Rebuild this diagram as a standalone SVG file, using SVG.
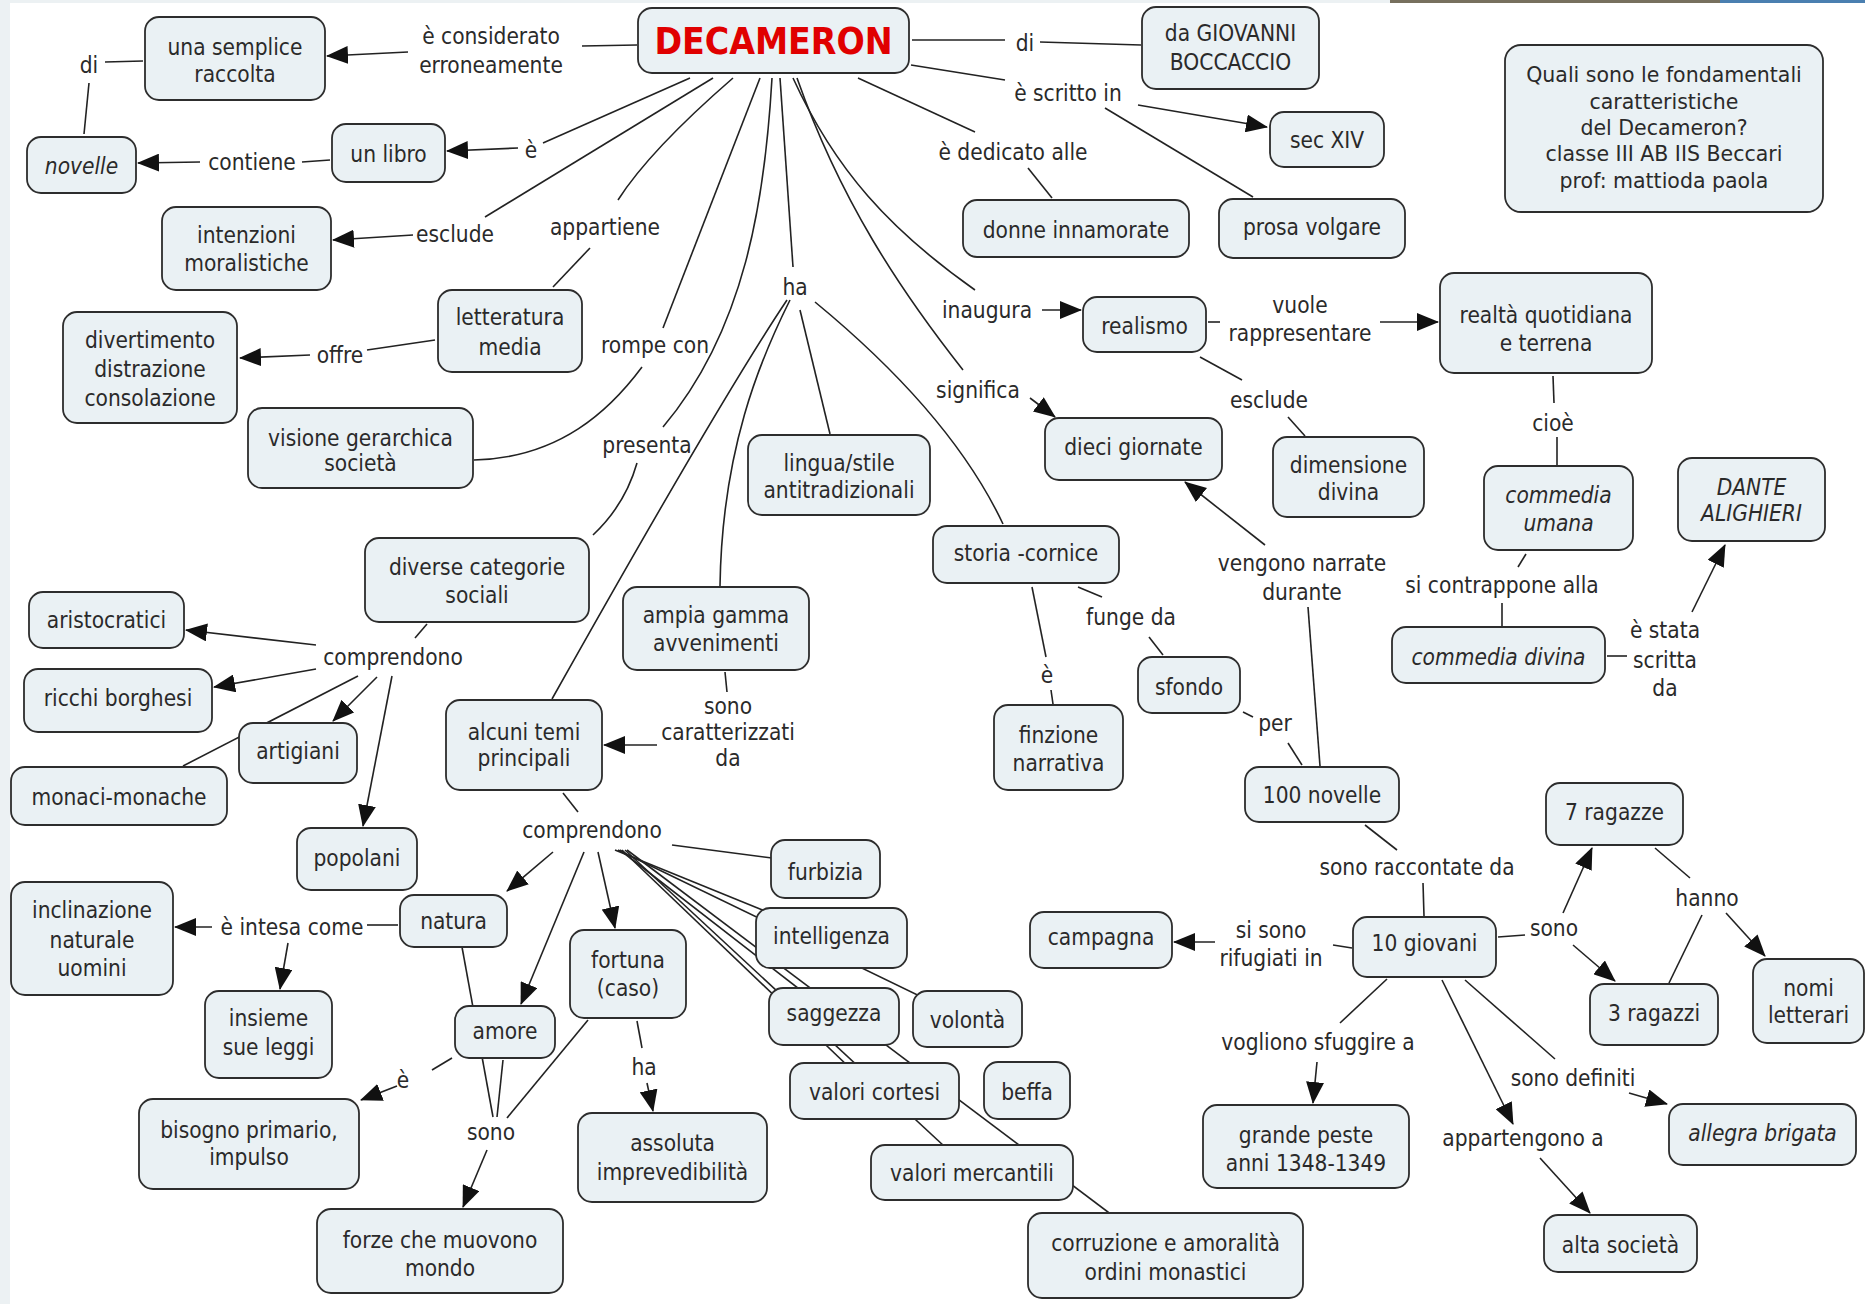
<svg xmlns="http://www.w3.org/2000/svg" width="1865" height="1304" viewBox="0 0 1865 1304">
<defs>
<marker id="ah" markerUnits="userSpaceOnUse" markerWidth="22" markerHeight="18" refX="21" refY="9" orient="auto" viewBox="0 0 22 18">
<path d="M0,0 L22,9 L0,18 z" fill="#111"/>
</marker>
<style>
.n rect{fill:#eaf1f4;stroke:#2d2d2d;stroke-width:1.8}
text{font-family:"DejaVu Sans Condensed","DejaVu Sans",sans-serif;font-size:22.5px;fill:#2a2a2a;text-anchor:middle}
.i{font-style:italic}
.q{font-family:"DejaVu Sans",sans-serif;font-size:20.5px}
.big{font-weight:bold;font-size:37px;fill:#e00000}
.c path,.c line{stroke:#222;stroke-width:1.6;fill:none}
.c .a{marker-end:url(#ah)}
</style>
</defs>
<rect width="1865" height="1304" fill="#ffffff"/>
<rect x="0" y="0" width="10" height="1304" fill="#ecf1f3"/>
<rect x="0" y="0" width="1865" height="3" fill="#ecf1f3"/>
<rect x="1390" y="0" width="330" height="3" fill="#77705e"/>
<rect x="1720" y="0" width="145" height="3" fill="#4a7fb0"/>

<g id="connectors" class="c">
<line x1="637" y1="45" x2="582" y2="46"/>
<line class="a" x1="408" y1="52" x2="327" y2="56"/>
<line x1="105" y1="62" x2="143" y2="61"/>
<line x1="89" y1="83" x2="84" y2="134"/>
<line x1="330" y1="160" x2="302" y2="162"/>
<line class="a" x1="200" y1="162" x2="138" y2="163"/>
<line x1="690" y1="78" x2="543" y2="143"/>
<line class="a" x1="518" y1="148" x2="447" y2="151"/>
<line x1="713" y1="78" x2="485" y2="217"/>
<line class="a" x1="413" y1="235" x2="333" y2="240"/>
<path d="M733 78 Q650 150 618 200"/>
<line x1="590" y1="248" x2="553" y2="287"/>
<line x1="435" y1="340" x2="367" y2="350"/>
<line class="a" x1="310" y1="355" x2="240" y2="358"/>
<line x1="760" y1="78" x2="663" y2="328"/>
<path d="M642 367 C610 410 560 458 474 460"/>
<path d="M772 78 C765 200 745 330 663 427"/>
<path d="M637 463 Q625 505 593 535"/>
<line x1="780" y1="78" x2="793" y2="267"/>
<path d="M787 300 Q720 400 552 699"/>
<path d="M790 300 C760 360 722 450 720 586"/>
<line x1="800" y1="310" x2="830" y2="434"/>
<path d="M815 302 Q951 414 1003 524"/>
<line x1="858" y1="78" x2="975" y2="132"/>
<line x1="1028" y1="168" x2="1052" y2="198"/>
<line x1="912" y1="40" x2="1005" y2="40"/>
<line x1="1040" y1="42" x2="1141" y2="45"/>
<line x1="911" y1="65" x2="1005" y2="80"/>
<line class="a" x1="1138" y1="105" x2="1267" y2="127"/>
<line x1="1105" y1="108" x2="1253" y2="197"/>
<path d="M793 78 C835 170 890 230 975 290"/>
<line class="a" x1="1042" y1="310" x2="1081" y2="310"/>
<path d="M797 78 C840 200 900 290 963 370"/>
<line class="a" x1="1030" y1="398" x2="1055" y2="417"/>
<line x1="1208" y1="322" x2="1220" y2="322"/>
<line class="a" x1="1380" y1="322" x2="1438" y2="322"/>
<line x1="1200" y1="357" x2="1242" y2="380"/>
<line x1="1288" y1="417" x2="1305" y2="436"/>
<line x1="1553" y1="376" x2="1554" y2="403"/>
<line x1="1557" y1="437" x2="1557" y2="465"/>
<line x1="1526" y1="554" x2="1518" y2="567"/>
<line x1="1502" y1="603" x2="1502" y2="626"/>
<line x1="1607" y1="656" x2="1627" y2="656"/>
<line class="a" x1="1692" y1="612" x2="1725" y2="545"/>
<line x1="1078" y1="587" x2="1102" y2="597"/>
<line x1="1149" y1="637" x2="1163" y2="655"/>
<line x1="1032" y1="587" x2="1046" y2="657"/>
<line x1="1051" y1="690" x2="1053" y2="704"/>
<line x1="1243" y1="712" x2="1253" y2="717"/>
<line x1="1288" y1="743" x2="1302" y2="765"/>
<line x1="1320" y1="766" x2="1308" y2="607"/>
<line class="a" x1="1265" y1="545" x2="1185" y2="482"/>
<line x1="1365" y1="825" x2="1397" y2="850"/>
<line x1="1423" y1="883" x2="1424" y2="916"/>
<line x1="1498" y1="937" x2="1525" y2="935"/>
<line class="a" x1="1563" y1="913" x2="1592" y2="848"/>
<line class="a" x1="1573" y1="945" x2="1615" y2="981"/>
<line x1="1655" y1="848" x2="1690" y2="878"/>
<line x1="1669" y1="983" x2="1702" y2="915"/>
<line class="a" x1="1726" y1="913" x2="1765" y2="956"/>
<line x1="1465" y1="980" x2="1555" y2="1059"/>
<line class="a" x1="1629" y1="1093" x2="1667" y2="1104"/>
<line class="a" x1="1442" y1="980" x2="1513" y2="1124"/>
<line class="a" x1="1540" y1="1158" x2="1590" y2="1213"/>
<line x1="1387" y1="979" x2="1340" y2="1023"/>
<line class="a" x1="1317" y1="1062" x2="1313" y2="1103"/>
<line x1="1352" y1="948" x2="1333" y2="945"/>
<line class="a" x1="1215" y1="942" x2="1174" y2="942"/>
<line x1="427" y1="624" x2="415" y2="638"/>
<line class="a" x1="316" y1="645" x2="186" y2="630"/>
<line class="a" x1="316" y1="669" x2="214" y2="687"/>
<line class="a" x1="377" y1="677" x2="333" y2="721"/>
<line x1="358" y1="676" x2="183" y2="766"/>
<line class="a" x1="392" y1="676" x2="363" y2="826"/>
<line x1="725" y1="672" x2="727" y2="692"/>
<line class="a" x1="657" y1="745" x2="604" y2="745"/>
<line x1="563" y1="793" x2="578" y2="812"/>
<line class="a" x1="553" y1="852" x2="507" y2="891"/>
<line class="a" x1="584" y1="852" x2="521" y2="1004"/>
<line class="a" x1="598" y1="852" x2="615" y2="928"/>
<line x1="672" y1="845" x2="772" y2="858"/>
<line x1="615" y1="850" x2="831" y2="938"/>
<line x1="618" y1="850" x2="967" y2="1019"/>
<line x1="620" y1="850" x2="834" y2="1016"/>
<line x1="622" y1="850" x2="874" y2="1091"/>
<line x1="625" y1="850" x2="972" y2="1172"/>
<line x1="627" y1="850" x2="1165" y2="1255"/>
<line x1="398" y1="925" x2="367" y2="925"/>
<line class="a" x1="212" y1="927" x2="175" y2="927"/>
<line class="a" x1="288" y1="943" x2="280" y2="989"/>
<line x1="452" y1="1058" x2="432" y2="1070"/>
<line class="a" x1="397" y1="1086" x2="361" y2="1100"/>
<line x1="462" y1="947" x2="493" y2="1117"/>
<line x1="503" y1="1060" x2="497" y2="1117"/>
<line x1="588" y1="1020" x2="507" y2="1118"/>
<line class="a" x1="487" y1="1150" x2="463" y2="1207"/>
<line x1="637" y1="1021" x2="642" y2="1048"/>
<line class="a" x1="647" y1="1083" x2="653" y2="1111"/>
</g>

<g id="decameron" class="n"><rect x="638" y="8" width="271" height="65" rx="14"/><text class="big" x="773.5" y="54">DECAMERON</text></g>
<g id="semplice" class="n"><rect x="145" y="17" width="180" height="83" rx="14"/><text x="235" y="55"><tspan x="235" y="55">una semplice</tspan><tspan x="235" y="82">raccolta</tspan></text></g>
<g id="novelle" class="n"><rect x="27" y="137" width="109" height="56" rx="14"/><text class="i" x="81.5" y="174">novelle</text></g>
<g id="libro" class="n"><rect x="332" y="124" width="113" height="58" rx="14"/><text x="388.5" y="162">un libro</text></g>
<g id="intenzioni" class="n"><rect x="162" y="207" width="169" height="83" rx="14"/><text x="246.5" y="243"><tspan x="246.5" y="243">intenzioni</tspan><tspan x="246.5" y="271">moralistiche</tspan></text></g>
<g id="divertimento" class="n"><rect x="63" y="312" width="174" height="111" rx="14"/><text x="150" y="348"><tspan x="150" y="348">divertimento</tspan><tspan x="150" y="377">distrazione</tspan><tspan x="150" y="406">consolazione</tspan></text></g>
<g id="letteratura" class="n"><rect x="438" y="290" width="144" height="82" rx="14"/><text x="510" y="325"><tspan x="510" y="325">letteratura</tspan><tspan x="510" y="355">media</tspan></text></g>
<g id="visione" class="n"><rect x="248" y="408" width="225" height="80" rx="14"/><text x="360.5" y="446"><tspan x="360.5" y="446">visione gerarchica</tspan><tspan x="360.5" y="471">società</tspan></text></g>
<g id="giovanni" class="n"><rect x="1142" y="7" width="177" height="82" rx="14"/><text x="1230.5" y="41"><tspan x="1230.5" y="41">da GIOVANNI</tspan><tspan x="1230.5" y="70">BOCCACCIO</tspan></text></g>
<g id="secxiv" class="n"><rect x="1270" y="112" width="114" height="55" rx="14"/><text x="1327" y="148">sec XIV</text></g>
<g id="donne" class="n"><rect x="963" y="200" width="226" height="57" rx="14"/><text x="1076" y="238">donne innamorate</text></g>
<g id="prosa" class="n"><rect x="1219" y="199" width="186" height="59" rx="14"/><text x="1312" y="235">prosa volgare</text></g>
<g id="quali" class="n"><rect x="1505" y="45" width="318" height="167" rx="16"/><text class="q" x="1664" y="82"><tspan x="1664" y="82">Quali sono le fondamentali</tspan><tspan x="1664" y="109">caratteristiche</tspan><tspan x="1664" y="135">del Decameron?</tspan><tspan x="1664" y="161">classe III AB IIS Beccari</tspan><tspan x="1664" y="188">prof: mattioda paola</tspan></text></g>
<g id="realismo" class="n"><rect x="1083" y="297" width="123" height="55" rx="14"/><text x="1144.5" y="334">realismo</text></g>
<g id="realta" class="n"><rect x="1440" y="273" width="212" height="100" rx="14"/><text x="1546" y="323"><tspan x="1546" y="323">realtà quotidiana</tspan><tspan x="1546" y="351">e terrena</tspan></text></g>
<g id="dieci" class="n"><rect x="1045" y="418" width="177" height="62" rx="14"/><text x="1133.5" y="455">dieci giornate</text></g>
<g id="dimensione" class="n"><rect x="1273" y="437" width="151" height="80" rx="14"/><text x="1348.5" y="473"><tspan x="1348.5" y="473">dimensione</tspan><tspan x="1348.5" y="500">divina</tspan></text></g>
<g id="lingua" class="n"><rect x="748" y="435" width="182" height="80" rx="14"/><text x="839" y="471"><tspan x="839" y="471">lingua/stile</tspan><tspan x="839" y="498">antitradizionali</tspan></text></g>
<g id="storia" class="n"><rect x="933" y="526" width="186" height="57" rx="14"/><text x="1026" y="561">storia -cornice</text></g>
<g id="umana" class="n"><rect x="1484" y="466" width="149" height="84" rx="14"/><text class="i" x="1558.5" y="503"><tspan x="1558.5" y="503">commedia</tspan><tspan x="1558.5" y="531">umana</tspan></text></g>
<g id="dante" class="n"><rect x="1678" y="458" width="147" height="83" rx="14"/><text class="i" x="1751.5" y="495"><tspan x="1751.5" y="495">DANTE</tspan><tspan x="1751.5" y="521">ALIGHIERI</tspan></text></g>
<g id="divina" class="n"><rect x="1392" y="627" width="213" height="56" rx="14"/><text class="i" x="1498.5" y="665">commedia divina</text></g>
<g id="diverse" class="n"><rect x="365" y="538" width="224" height="84" rx="14"/><text x="477" y="575"><tspan x="477" y="575">diverse categorie</tspan><tspan x="477" y="603">sociali</tspan></text></g>
<g id="ampia" class="n"><rect x="623" y="587" width="186" height="83" rx="14"/><text x="716" y="623"><tspan x="716" y="623">ampia gamma</tspan><tspan x="716" y="651">avvenimenti</tspan></text></g>
<g id="alcuni" class="n"><rect x="446" y="700" width="156" height="90" rx="14"/><text x="524" y="740"><tspan x="524" y="740">alcuni temi</tspan><tspan x="524" y="766">principali</tspan></text></g>
<g id="sfondo" class="n"><rect x="1138" y="657" width="102" height="56" rx="14"/><text x="1189" y="695">sfondo</text></g>
<g id="finzione" class="n"><rect x="994" y="705" width="129" height="85" rx="14"/><text x="1058.5" y="743"><tspan x="1058.5" y="743">finzione</tspan><tspan x="1058.5" y="771">narrativa</tspan></text></g>
<g id="cento" class="n"><rect x="1245" y="767" width="154" height="55" rx="14"/><text x="1322" y="803">100 novelle</text></g>
<g id="aristocratici" class="n"><rect x="29" y="592" width="155" height="56" rx="14"/><text x="106.5" y="628">aristocratici</text></g>
<g id="ricchi" class="n"><rect x="24" y="669" width="188" height="63" rx="14"/><text x="118" y="706">ricchi borghesi</text></g>
<g id="artigiani" class="n"><rect x="239" y="723" width="118" height="60" rx="14"/><text x="298" y="759">artigiani</text></g>
<g id="monaci" class="n"><rect x="11" y="767" width="216" height="58" rx="14"/><text x="119" y="805">monaci-monache</text></g>
<g id="popolani" class="n"><rect x="297" y="828" width="120" height="62" rx="14"/><text x="357" y="866">popolani</text></g>
<g id="inclinazione" class="n"><rect x="11" y="882" width="162" height="113" rx="14"/><text x="92" y="918"><tspan x="92" y="918">inclinazione</tspan><tspan x="92" y="948">naturale</tspan><tspan x="92" y="976">uomini</tspan></text></g>
<g id="natura" class="n"><rect x="400" y="895" width="107" height="52" rx="14"/><text x="453.5" y="929">natura</text></g>
<g id="insieme" class="n"><rect x="205" y="991" width="127" height="87" rx="14"/><text x="268.5" y="1026"><tspan x="268.5" y="1026">insieme</tspan><tspan x="268.5" y="1055">sue leggi</tspan></text></g>
<g id="amore" class="n"><rect x="455" y="1006" width="100" height="52" rx="14"/><text x="505" y="1039">amore</text></g>
<g id="bisogno" class="n"><rect x="139" y="1099" width="220" height="90" rx="14"/><text x="249" y="1138"><tspan x="249" y="1138">bisogno primario,</tspan><tspan x="249" y="1165">impulso</tspan></text></g>
<g id="forze" class="n"><rect x="317" y="1209" width="246" height="84" rx="14"/><text x="440" y="1248"><tspan x="440" y="1248">forze che muovono</tspan><tspan x="440" y="1276">mondo</tspan></text></g>
<g id="fortuna" class="n"><rect x="570" y="930" width="116" height="88" rx="14"/><text x="628" y="968"><tspan x="628" y="968">fortuna</tspan><tspan x="628" y="996">(caso)</tspan></text></g>
<g id="assoluta" class="n"><rect x="578" y="1113" width="189" height="89" rx="14"/><text x="672.5" y="1151"><tspan x="672.5" y="1151">assoluta</tspan><tspan x="672.5" y="1180">imprevedibilità</tspan></text></g>
<g id="furbizia" class="n"><rect x="771" y="840" width="109" height="58" rx="14"/><text x="825.5" y="880">furbizia</text></g>
<g id="intelligenza" class="n"><rect x="756" y="908" width="151" height="60" rx="14"/><text x="831.5" y="944">intelligenza</text></g>
<g id="saggezza" class="n"><rect x="769" y="988" width="130" height="57" rx="14"/><text x="834" y="1021">saggezza</text></g>
<g id="volonta" class="n"><rect x="913" y="991" width="109" height="56" rx="14"/><text x="967.5" y="1028">volontà</text></g>
<g id="cortesi" class="n"><rect x="790" y="1063" width="169" height="56" rx="14"/><text x="874.5" y="1100">valori cortesi</text></g>
<g id="beffa" class="n"><rect x="984" y="1062" width="86" height="57" rx="14"/><text x="1027" y="1100">beffa</text></g>
<g id="mercantili" class="n"><rect x="871" y="1145" width="202" height="55" rx="14"/><text x="972" y="1181">valori mercantili</text></g>
<g id="corruzione" class="n"><rect x="1028" y="1213" width="275" height="85" rx="14"/><text x="1165.5" y="1251"><tspan x="1165.5" y="1251">corruzione e amoralità</tspan><tspan x="1165.5" y="1280">ordini monastici</tspan></text></g>
<g id="campagna" class="n"><rect x="1030" y="912" width="142" height="56" rx="14"/><text x="1101" y="945">campagna</text></g>
<g id="giovani" class="n"><rect x="1353" y="917" width="143" height="60" rx="14"/><text x="1424.5" y="951">10 giovani</text></g>
<g id="peste" class="n"><rect x="1203" y="1105" width="206" height="83" rx="14"/><text x="1306" y="1143"><tspan x="1306" y="1143">grande peste</tspan><tspan x="1306" y="1171">anni 1348-1349</tspan></text></g>
<g id="ragazze" class="n"><rect x="1546" y="783" width="137" height="62" rx="14"/><text x="1614.5" y="820">7 ragazze</text></g>
<g id="ragazzi" class="n"><rect x="1590" y="984" width="128" height="61" rx="14"/><text x="1654" y="1021">3 ragazzi</text></g>
<g id="nomi" class="n"><rect x="1753" y="959" width="111" height="84" rx="14"/><text x="1808.5" y="996"><tspan x="1808.5" y="996">nomi</tspan><tspan x="1808.5" y="1023">letterari</tspan></text></g>
<g id="allegra" class="n"><rect x="1669" y="1104" width="187" height="61" rx="14"/><text class="i" x="1762.5" y="1141">allegra brigata</text></g>
<g id="alta" class="n"><rect x="1544" y="1215" width="153" height="57" rx="14"/><text x="1620.5" y="1253">alta società</text></g>

<g id="labels">
<text x="491" y="44"><tspan x="491" y="44">è considerato</tspan><tspan x="491" y="73">erroneamente</tspan></text>
<text x="89" y="73">di</text>
<text x="252" y="170">contiene</text>
<text x="531" y="158">è</text>
<text x="455" y="242">esclude</text>
<text x="605" y="235">appartiene</text>
<text x="340" y="363">offre</text>
<text x="655" y="353">rompe con</text>
<text x="795" y="295">ha</text>
<text x="647" y="453">presenta</text>
<text x="1025" y="51">di</text>
<text x="1068" y="101">è scritto in</text>
<text x="1013" y="160">è dedicato alle</text>
<text x="987" y="318">inaugura</text>
<text x="978" y="398">significa</text>
<text x="1300" y="313"><tspan x="1300" y="313">vuole</tspan><tspan x="1300" y="341">rappresentare</tspan></text>
<text x="1269" y="408">esclude</text>
<text x="1553" y="431">cioè</text>
<text x="1502" y="593">si contrappone alla</text>
<text x="1665" y="638"><tspan x="1665" y="638">è stata</tspan><tspan x="1665" y="668">scritta</tspan><tspan x="1665" y="696">da</tspan></text>
<text x="1302" y="571"><tspan x="1302" y="571">vengono narrate</tspan><tspan x="1302" y="600">durante</tspan></text>
<text x="1131" y="625">funge da</text>
<text x="1047" y="683">è</text>
<text x="1275" y="731">per</text>
<text x="1417" y="875">sono raccontate da</text>
<text x="1554" y="936">sono</text>
<text x="1707" y="906">hanno</text>
<text x="1573" y="1086">sono definiti</text>
<text x="1523" y="1146">appartengono a</text>
<text x="1318" y="1050">vogliono sfuggire a</text>
<text x="1271" y="938"><tspan x="1271" y="938">si sono</tspan><tspan x="1271" y="966">rifugiati in</tspan></text>
<text x="393" y="665">comprendono</text>
<text x="728" y="714"><tspan x="728" y="714">sono</tspan><tspan x="728" y="740">caratterizzati</tspan><tspan x="728" y="766">da</tspan></text>
<text x="592" y="838">comprendono</text>
<text x="292" y="935">è intesa come</text>
<text x="403" y="1088">è</text>
<text x="491" y="1140">sono</text>
<text x="644" y="1075">ha</text>
</g>
</svg>
